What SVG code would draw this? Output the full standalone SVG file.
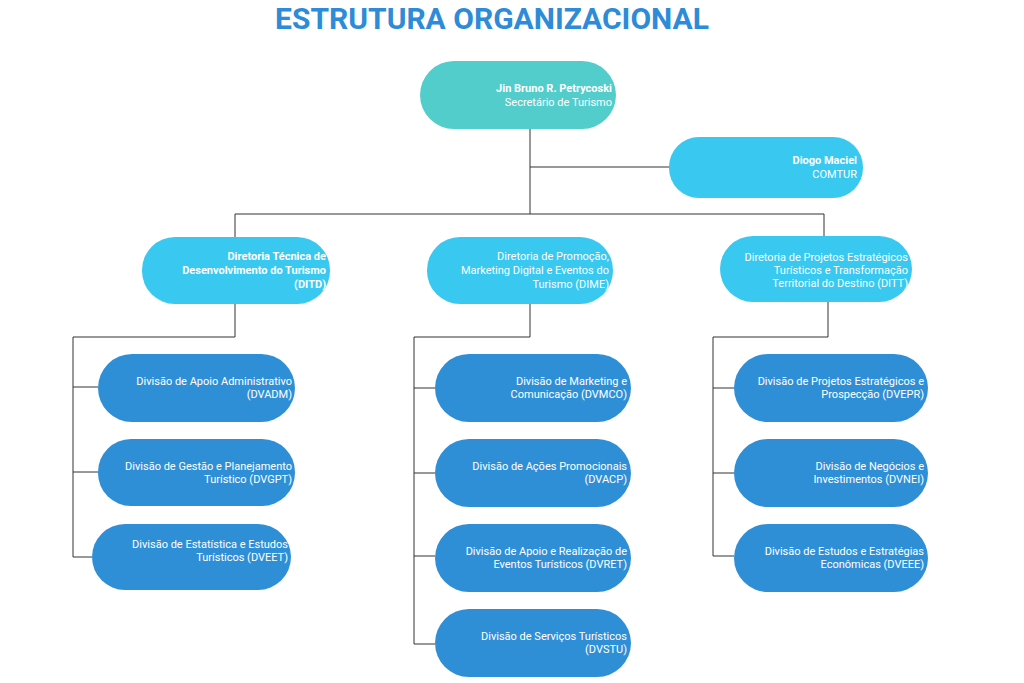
<svg xmlns="http://www.w3.org/2000/svg" width="1024" height="683" viewBox="0 0 1024 683">
<style>
.t{font-family:Roboto,"Liberation Sans",sans-serif;font-size:11px;fill:#fff;text-anchor:end}
.b{font-weight:bold}
.top{fill:#52cdcb}.mid{fill:#38c8f0}.div{fill:#2f8fd6}
.c{stroke:#333;stroke-width:1;fill:none}
</style>
<rect width="1024" height="683" fill="#fff"/>
<text x="492" y="29" font-family="Roboto,'Liberation Sans',sans-serif" font-size="30" font-weight="bold" fill="#2e8bd8" text-anchor="middle">ESTRUTURA ORGANIZACIONAL</text>
<g id="connectors" class="c">
<path d="M530 129V214M530 167H669M235 214H824M235 214V237M824 214V236"/>
<path d="M235 304V337H73V557M73 387H98M73 472H98M73 557H92"/>
<path d="M530 304V337H414V644M414 388H435M414 473H435M414 556H435M414 644H435"/>
<path d="M828 302V337H713V556M713 388H734M713 473H734M713 556H734"/>
</g>
<g id="secretario"><rect class="top" x="420" y="61" width="196" height="68" rx="34"/><text class="t b" x="612" y="92">Jin Bruno R. Petrycoski</text><text class="t" x="612" y="106">Secretário de Turismo</text></g>
<g id="comtur"><rect class="mid" x="669" y="137" width="194" height="61" rx="30"/><text class="t b" x="857" y="164">Diogo Maciel</text><text class="t" x="857" y="178">COMTUR</text></g>
<g id="ditd"><rect class="mid" x="142" y="237" width="188" height="67" rx="33"/><text class="t b" x="326" y="260">Diretoria Técnica de</text><text class="t b" x="326" y="274">Desenvolvimento do Turismo</text><text class="t b" x="326" y="288">(DITD)</text></g>
<g id="dime"><rect class="mid" x="427" y="237" width="186" height="67" rx="33"/><text class="t" x="609" y="260">Diretoria de Promoção,</text><text class="t" x="609" y="274">Marketing Digital e Eventos do</text><text class="t" x="609" y="288">Turismo (DIME)</text></g>
<g id="ditt"><rect class="mid" x="720" y="236" width="192" height="66" rx="33"/><text class="t" x="908" y="261">Diretoria de Projetos Estratégicos</text><text class="t" x="908" y="274">Turísticos e Transformação</text><text class="t" x="908" y="287">Territorial do Destino (DITT)</text></g>
<g id="dvadm"><rect class="div" x="98" y="354" width="197" height="68" rx="34"/><text class="t" x="292" y="385">Divisão de Apoio Administrativo</text><text class="t" x="292" y="398">(DVADM)</text></g>
<g id="dvgpt"><rect class="div" x="98" y="439" width="197" height="67" rx="33"/><text class="t" x="292" y="470">Divisão de Gestão e Planejamento</text><text class="t" x="292" y="483">Turístico (DVGPT)</text></g>
<g id="dveet"><rect class="div" x="92" y="524" width="199" height="66" rx="33"/><text class="t" x="288" y="548">Divisão de Estatística e Estudos</text><text class="t" x="288" y="561">Turísticos (DVEET)</text></g>
<g id="dvmco"><rect class="div" x="435" y="354" width="196" height="68" rx="34"/><text class="t" x="627" y="385">Divisão de Marketing e</text><text class="t" x="627" y="398">Comunicação (DVMCO)</text></g>
<g id="dvacp"><rect class="div" x="435" y="439" width="196" height="68" rx="34"/><text class="t" x="627" y="470">Divisão de Ações Promocionais</text><text class="t" x="627" y="483">(DVACP)</text></g>
<g id="dvret"><rect class="div" x="435" y="524" width="196" height="68" rx="34"/><text class="t" x="627" y="555">Divisão de Apoio e Realização de</text><text class="t" x="627" y="568">Eventos Turísticos (DVRET)</text></g>
<g id="dvstu"><rect class="div" x="435" y="609" width="196" height="68" rx="34"/><text class="t" x="627" y="640">Divisão de Serviços Turísticos</text><text class="t" x="627" y="653">(DVSTU)</text></g>
<g id="dvepr"><rect class="div" x="734" y="354" width="194" height="68" rx="34"/><text class="t" x="924" y="385">Divisão de Projetos Estratégicos e</text><text class="t" x="924" y="398">Prospecção (DVEPR)</text></g>
<g id="dvnei"><rect class="div" x="734" y="439" width="194" height="68" rx="34"/><text class="t" x="924" y="470">Divisão de Negócios e</text><text class="t" x="924" y="483">Investimentos (DVNEI)</text></g>
<g id="dveee"><rect class="div" x="734" y="524" width="194" height="68" rx="34"/><text class="t" x="924" y="555">Divisão de Estudos e Estratégias</text><text class="t" x="924" y="568">Econômicas (DVEEE)</text></g>
</svg>
